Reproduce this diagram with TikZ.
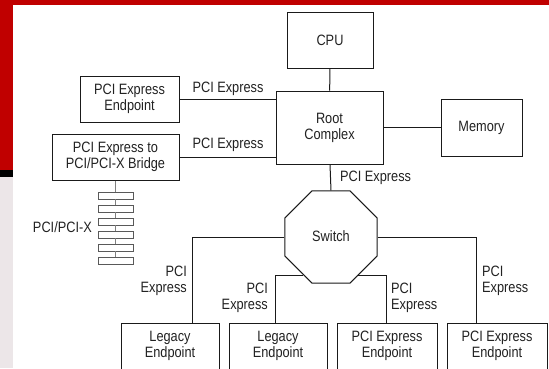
\documentclass[tikz,border=0pt]{standalone}
\usepackage{fontspec}
\setmainfont{Liberation Sans}[FakeStretch=0.85]
\usetikzlibrary{shapes.geometric,calc}
\definecolor{slidered}{HTML}{C00000}
\definecolor{strip}{HTML}{ECE6E8}
\definecolor{ink}{HTML}{1A1A1A}
\definecolor{txt}{HTML}{222222}
\tikzset{
  box/.style={draw=ink, line width=1pt, fill=white, rectangle, inner sep=0pt, align=center, text=txt, font=\fontsize{15}{16}\selectfont},
  lbl/.style={inner sep=0pt, text=txt, font=\fontsize{15}{16}\selectfont},
  wire/.style={draw=ink, line width=1pt},
  bus/.style={draw=black!50, line width=1pt},
  slot/.style={draw=black!65, line width=0.8pt, fill=white, rectangle, inner sep=0pt, minimum width=35pt, minimum height=7pt},
}
\begin{document}
\begin{tikzpicture}[x=1pt, y=-1pt]
\useasboundingbox (0,0) rectangle (549,368);
\clip (0,0) rectangle (549,368);
% background
\fill[white] (0,0) rectangle (549,368);
\fill[slidered] (0,0) rectangle (549,5);
\fill[slidered] (0,0) rectangle (13,170);
\fill[black] (0,170) rectangle (13,177);
\fill[strip] (0,177) rectangle (13,368);
% nodes
\node[box, minimum width=86pt, minimum height=56pt] (cpu) at (330,40) {CPU};
\node[box, minimum width=107pt, minimum height=73pt] (root) at (329.5,127.5) {Root\\Complex};
\node[box, minimum width=81pt, minimum height=57pt] (mem) at (481.5,127.5) {Memory};
\node[box, minimum width=99pt, minimum height=46pt] (ep0) at (129.5,99) {PCI Express\\Endpoint};
\node[box, minimum width=127pt, minimum height=46pt] (br) at (115.5,157) {PCI Express to\\PCI/PCI-X Bridge};
\node[box, regular polygon, regular polygon sides=8, minimum size=99.6pt] (sw) at (331,237) {};
\node[lbl] (swt) at (331,236) {Switch};
\node[box, minimum width=98pt, minimum height=46pt] (leg1) at (170,346) {Legacy\\Endpoint};
\node[box, minimum width=98pt, minimum height=46pt] (leg2) at (278,346) {Legacy\\Endpoint};
\node[box, minimum width=100pt, minimum height=46pt] (ep3) at (387,346) {PCI Express\\Endpoint};
\node[box, minimum width=100pt, minimum height=46pt] (ep4) at (497,346) {PCI Express\\Endpoint};
% connectors
\draw[wire] (cpu) -- (root);
\draw[wire] (root) -- (mem);
\draw[wire] (ep0.east) -- (ep0.east -| root.west);
\draw[wire] (br.east) -- (br.east -| root.west);
\draw[wire] (root.south -| cpu.south) -- (sw.north);
\draw[wire] (sw.west) -| ([xshift=22pt]leg1.north);
\draw[wire] (sw.east) -| ([xshift=-21pt]ep4.north);
\draw[wire] (sw.234.6) -| ([xshift=-3pt]leg2.north);
\draw[wire] (sw.305.4) -| ([xshift=-1pt]ep3.north);
% PCI bus
\node[slot] (s1) at (115.5,195.5) {};
\node[slot] (s2) at (115.5,208.5) {};
\node[slot] (s3) at (115.5,221.5) {};
\node[slot] (s4) at (115.5,234.5) {};
\node[slot] (s5) at (115.5,247.5) {};
\node[slot] (s6) at (115.5,260.5) {};
\draw[bus] (br.south) -- (s1.north);
\foreach \a/\b in {s1/s2,s2/s3,s3/s4,s4/s5,s5/s6} \draw[bus] (\a.south) -- (\b.north);
% labels
\node[lbl] (l1) at (228,88.5) {PCI Express};
\node[lbl] (l2) at (228,145) {PCI Express};
\node[lbl, anchor=west] (l3) at (340,178) {PCI Express};
\node[lbl, anchor=east] (l4) at (92,227) {PCI/PCI-X};
\node[lbl, anchor=east, align=right] (l5) at (187,280.5) {PCI\\Express};
\node[lbl, anchor=east, align=right] (l6) at (268,298) {PCI\\Express};
\node[lbl, anchor=west, align=left] (l7) at (391,298) {PCI\\Express};
\node[lbl, anchor=west, align=left] (l8) at (482,280.5) {PCI\\Express};
\end{tikzpicture}
\end{document}
